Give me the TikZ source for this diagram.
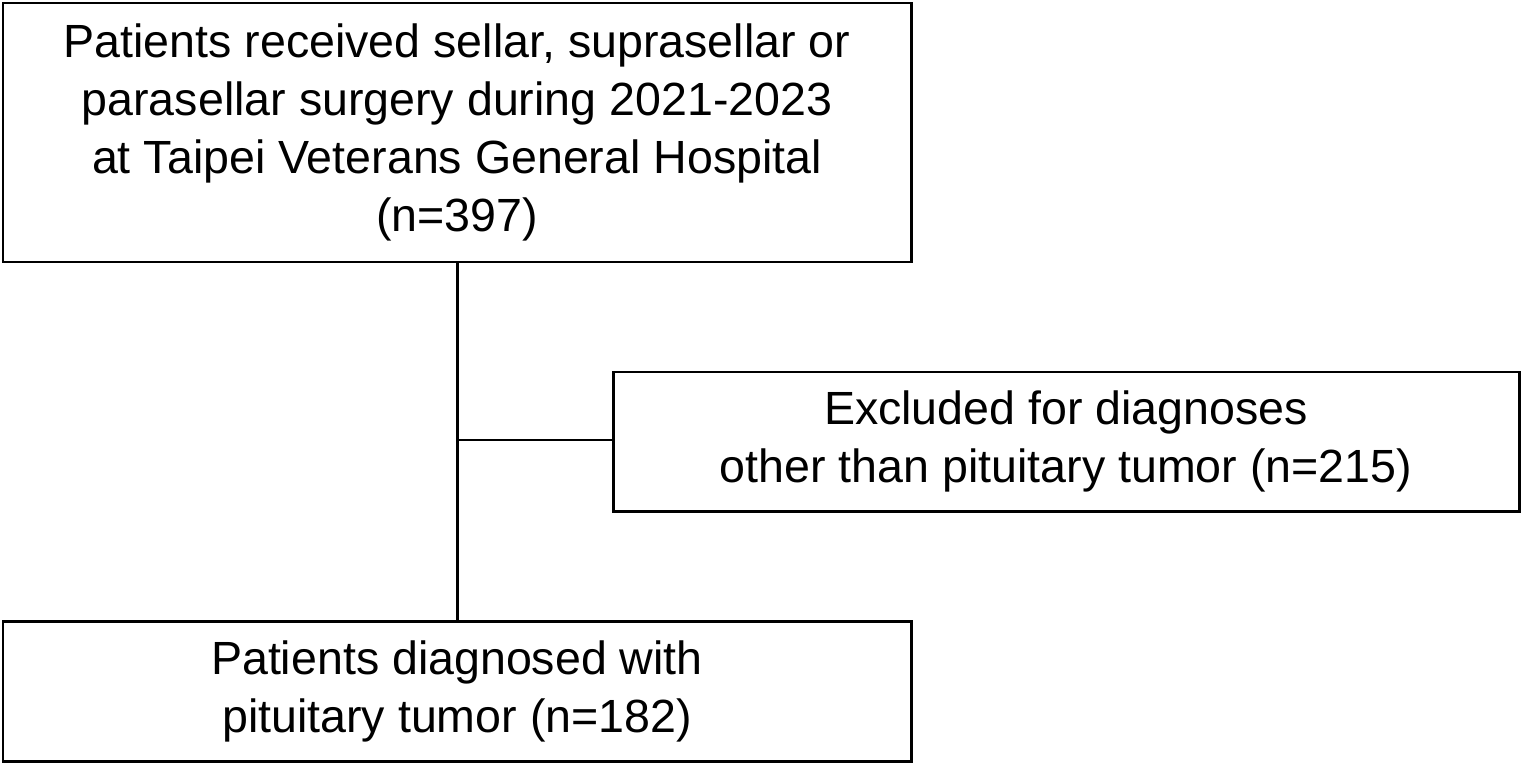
\documentclass[tikz,border=0pt]{standalone}
\usepackage{fontspec}
\setmainfont{Liberation Sans}
\begin{document}
\begin{tikzpicture}[x=0.02cm,y=-0.02cm,
  boxstyle/.style={draw=black,line width=1.7pt,align=center,font=\fontsize{26.5}{33}\selectfont},
  linestyle/.style={line width=1.7pt}]
\useasboundingbox (0,0) rectangle (1524,764);
\node[boxstyle,minimum width=908*0.02cm,minimum height=259*0.02cm] (a) at (457,132.5)
 {Patients received sellar, suprasellar or\\parasellar surgery during 2021-2023\\at Taipei Veterans General Hospital\\(n=397)};
\node[boxstyle,minimum width=906*0.02cm,minimum height=139*0.02cm] (b) at (1066,441.5)
 {Excluded for diagnoses\\other than pituitary tumor (n=215)};
\node[boxstyle,minimum width=908*0.02cm,minimum height=140*0.02cm] (c) at (457,691)
 {Patients diagnosed with\\pituitary tumor (n=182)};
\coordinate (j) at (457,440);
\draw[linestyle] (a.south) -- (c.north);
\draw[linestyle] (j) -- (b.west |- j);
\end{tikzpicture}
\end{document}
